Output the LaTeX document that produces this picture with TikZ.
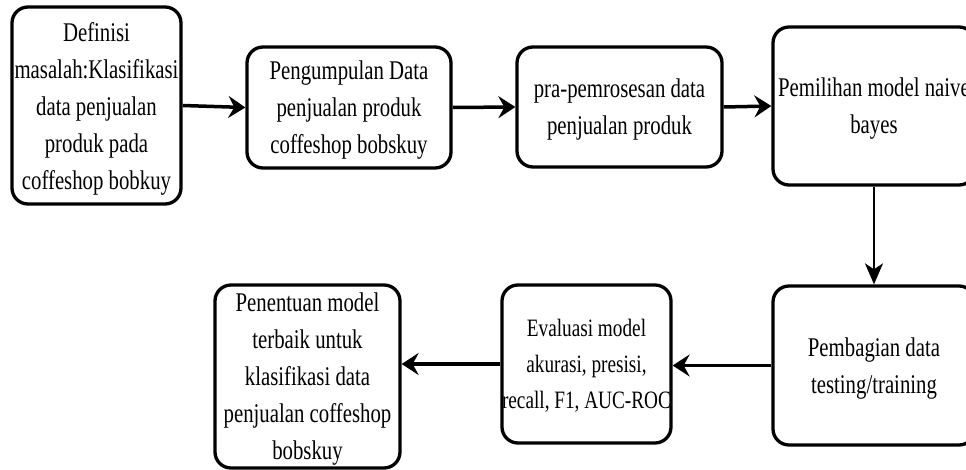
\documentclass[tikz,border=0pt]{standalone}
\usepackage{fontspec}
\setmainfont{Liberation Serif}[FakeStretch=0.77]
\usetikzlibrary{arrows.meta}
\tikzset{every picture/.style={line width=0.75pt}}
\tikzset{
  kotak/.style={draw,line width=3.3pt,rounded corners=16pt,inner sep=0pt,align=center,
    font=\fontsize{27}{37}\selectfont},
  turun/.style={text depth=#1},% geser teks ke bawah
  panah/.style={-{Stealth[length=17pt,width=22pt,inset=6pt]},line width=3.5pt},
}

\begin{document}
\begin{tikzpicture}[x=1pt,y=-1pt]
  \useasboundingbox (0,0) rectangle (966,470);
  % baris atas
  \node[kotak,turun=-18pt,minimum width=169pt,minimum height=197pt] (definisi) at (96.5,105.5)
    {Definisi\\masalah:Klasifikasi\\data penjualan\\produk pada\\coffeshop bobkuy};
  \node[kotak,turun=-2pt,minimum width=204pt,minimum height=121pt] (kumpul) at (349,107.5)
    {Pengumpulan Data\\penjualan produk\\coffeshop bobskuy};
  \node[kotak,turun=-4pt,minimum width=205pt,minimum height=120pt] (praproses) at (619.5,107)
    {pra-pemrosesan data\\penjualan produk};
  \node[kotak,turun=-4pt,minimum width=202pt,minimum height=158pt] (pilih) at (874,106)
    {Pemilihan model naive\\bayes};
  % baris bawah
  \node[kotak,turun=-8pt,minimum width=202pt,minimum height=159pt] (bagi) at (874,365.5)
    {Pembagian data\\testing/training};
  \node[kotak,turun=-14pt,font=\fontsize{25}{36}\selectfont,minimum width=169pt,minimum height=158pt] (evaluasi) at (586.5,364)
    {Evaluasi model\\akurasi, presisi,\\recall, F1, AUC-ROC};
  \node[kotak,turun=-10pt,minimum width=185pt,minimum height=183pt] (tentu) at (307.5,376.5)
    {Penentuan model\\terbaik untuk\\klasifikasi data\\penjualan coffeshop\\bobskuy};
  % panah
  \draw[panah] (definisi.east) -- (kumpul.west);
  \draw[panah] (kumpul.east) -- (praproses.west);
  \draw[panah] (praproses.east) -- (pilih.west);
  \draw[panah,line width=2.5pt,-{Stealth[length=21pt,width=18pt,inset=6pt]}] (pilih.south) -- (bagi.north);
  \draw[panah] (bagi.west) -- (evaluasi.east |- bagi.west);
  \draw[panah] (evaluasi.west) -- (tentu.east |- evaluasi.west);
\end{tikzpicture}
\end{document}
